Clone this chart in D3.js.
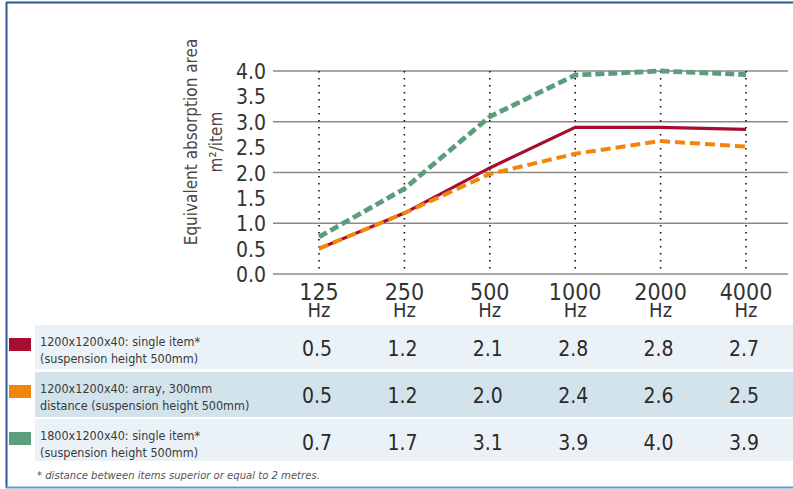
<!DOCTYPE html>
<html>
<head>
<meta charset="utf-8">
<script src="https://cdn.jsdelivr.net/npm/d3@7"></script>
<style>
  html, body { margin: 0; padding: 0; background: #fff; }
  svg { display: block; }
  text { font-family: "Liberation Sans Narrow", "DejaVu Sans Condensed", "Liberation Sans", sans-serif; }
</style>
</head>
<body>
<svg id="chart" width="793" height="489"></svg>
<script>
// ---- data ----
const categories = ["125", "250", "500", "1000", "2000", "4000"];
const unitLabel = "Hz";
const yTicks = [0, 0.5, 1, 1.5, 2, 2.5, 3, 3.5, 4];
const gridValues = [0, 1, 2, 3, 4];

const seriesNames = [
  ["1200x1200x40: single item*", "(suspension height 500mm)"],
  ["1200x1200x40: array, 300mm", "distance (suspension height 500mm)"],
  ["1800x1200x40: single item*", "(suspension height 500mm)"]
];
const seriesColors = ["#a50e30", "#f0870a", "#5c9e7c"];

// values as drawn in the plot
const singleItem1200 = [0.5, 1.2, 2.09, 2.89, 2.89, 2.85];
const array1200      = [0.5, 1.2, 1.97, 2.37, 2.62, 2.51];
const singleItem1800 = [0.73, 1.68, 3.1, 3.92, 4.0, 3.93];

// values as printed in the table
const tableSingle1200 = ["0.5", "1.2", "2.1", "2.8", "2.8", "2.7"];
const tableArray1200  = ["0.5", "1.2", "2.0", "2.4", "2.6", "2.5"];
const tableSingle1800 = ["0.7", "1.7", "3.1", "3.9", "4.0", "3.9"];

const yTitle = ["Equivalent absorption area", "m²/item"];
const footnote = "* distance between items superior or equal to 2 metres.";

// ---- drawing ----
const svg = d3.select("#chart");

const x = d3.scalePoint().domain(categories).range([319, 746]);
const y = d3.scaleLinear().domain([0, 4]).range([274, 71]);

// frame
svg.append("line").attr("x1", 6).attr("x2", 793).attr("y1", 2.5).attr("y2", 2.5)
  .attr("stroke", "#2d5b93").attr("stroke-width", 2);
svg.append("line").attr("x1", 6.5).attr("x2", 6.5).attr("y1", 2).attr("y2", 488)
  .attr("stroke", "#2d5b93").attr("stroke-width", 2);
svg.append("line").attr("x1", 6).attr("x2", 793).attr("y1", 487.5).attr("y2", 487.5)
  .attr("stroke", "#5d9cc6").attr("stroke-width", 2);

// horizontal gridlines
svg.append("g").selectAll("line").data(gridValues).join("line")
  .attr("x1", 273).attr("x2", 788)
  .attr("y1", d => y(d)).attr("y2", d => y(d))
  .attr("stroke", "#8a8a8a").attr("stroke-width", 1.3);

// vertical dotted lines
svg.append("g").selectAll("line").data(categories).join("line")
  .attr("x1", d => x(d)).attr("x2", d => x(d))
  .attr("y1", y(4)).attr("y2", y(0))
  .attr("stroke", "#111").attr("stroke-width", 1.6)
  .attr("stroke-dasharray", "1.6,5.4");

// y axis via d3.axisLeft
const yAxis = d3.axisLeft(y).tickValues(yTicks).tickFormat(d3.format(".1f")).tickSize(0).tickPadding(0);
const yg = svg.append("g").attr("transform", "translate(266,0)").call(yAxis);
yg.select(".domain").remove();
yg.selectAll("text")
  .attr("font-size", 21).attr("fill", "#333")
  .attr("font-family", "'Liberation Sans Narrow', 'DejaVu Sans Condensed', sans-serif")
  .attr("dy", "0.36em");

// y title
const yt = svg.append("text")
  .attr("transform", "translate(197,142) rotate(-90)")
  .attr("text-anchor", "middle").attr("fill", "#4d4540").attr("font-size", 17);
yt.append("tspan").attr("x", 0).attr("dy", 0).text(yTitle[0]);
yt.append("tspan").attr("x", 0).attr("dy", 25).text(yTitle[1]);

// x axis labels (number + unit in one text block)
const xt = svg.append("g").selectAll("text").data(categories).join("text")
  .attr("text-anchor", "middle").attr("fill", "#333");
xt.append("tspan").attr("x", d => x(d)).attr("y", 300).attr("font-size", 23).text(d => d);
xt.append("tspan").attr("x", d => x(d)).attr("y", 316.5).attr("font-size", 20).text(unitLabel);

// lines
const plotSeries = [singleItem1200, array1200, singleItem1800];
const styles = [
  { w: 3.2, dash: null },
  { w: 4, dash: "10,5" },
  { w: 4.8, dash: "9,4" }
];
const lineGen = d3.line().x((d, i) => x(categories[i])).y(d => y(d));
plotSeries.forEach((s, k) => {
  svg.append("path").datum(s)
    .attr("d", lineGen)
    .attr("fill", "none")
    .attr("stroke", seriesColors[k])
    .attr("stroke-width", styles[k].w)
    .attr("stroke-dasharray", styles[k].dash);
});

// table
const tableRows = [tableSingle1200, tableArray1200, tableSingle1800];
const rowTops = [325, 372, 419];
const rowHeights = [44, 45, 42];
const rowFills = ["#eaf2f7", "#d3e3ec", "#eaf2f7"];
const rows = svg.append("g").selectAll("g").data(tableRows).join("g");
rows.append("rect")
  .attr("x", 35).attr("width", 758)
  .attr("y", (d, i) => rowTops[i]).attr("height", (d, i) => rowHeights[i])
  .attr("fill", (d, i) => rowFills[i]);
rows.append("rect")
  .attr("x", 9).attr("width", 22)
  .attr("y", (d, i) => rowTops[i] + 13).attr("height", 13)
  .attr("fill", (d, i) => seriesColors[i]);
rows.each(function(d, i) {
  const g = d3.select(this);
  const t = g.append("text").attr("x", 40).attr("fill", "#3a3a3a").attr("font-size", 12.5);
  t.append("tspan").attr("x", 40).attr("y", rowTops[i] + 21).text(seriesNames[i][0]);
  t.append("tspan").attr("x", 40).attr("y", rowTops[i] + 38).text(seriesNames[i][1]);
  g.selectAll("text.val").data(d).join("text").attr("class", "val")
    .attr("x", (v, j) => x(categories[j]) - 2)
    .attr("y", rowTops[i] + 31)
    .attr("text-anchor", "middle")
    .attr("font-size", 21).attr("fill", "#2a2a2a")
    .text(v => v);
});

// footnote
svg.append("text").attr("x", 37).attr("y", 479)
  .attr("font-size", 11.2).attr("font-style", "italic").attr("fill", "#555")
  .text(footnote);
</script>
</body>
</html>
